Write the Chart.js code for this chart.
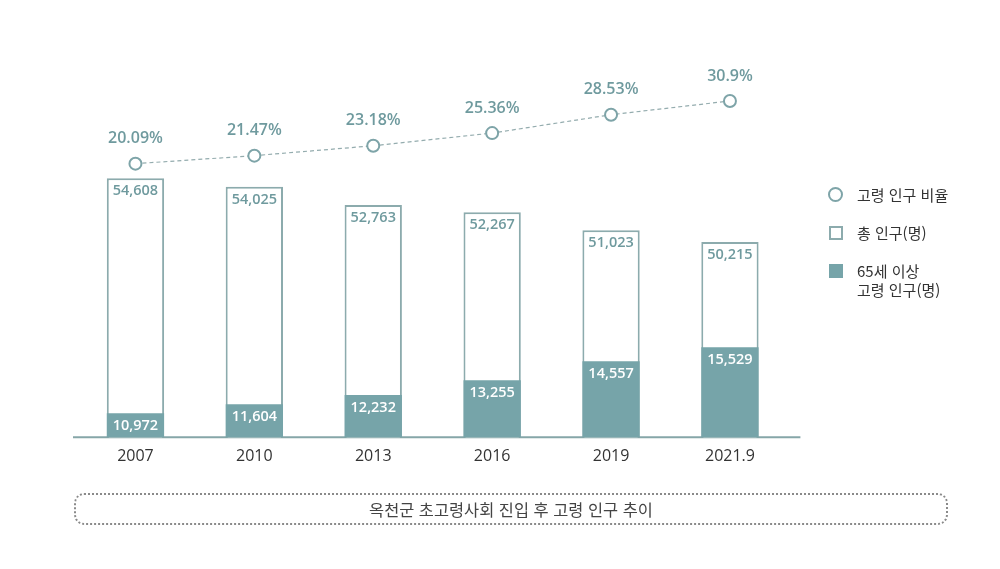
<!DOCTYPE html>
<html lang="ko">
<head>
<meta charset="utf-8">
<script src="https://cdn.jsdelivr.net/npm/chart.js@4.4.1/dist/chart.umd.min.js"></script>
<style>
  html, body { margin: 0; padding: 0; background: #fff; }
  #wrap { position: relative; width: 1000px; height: 569px; }
  #chart { position: absolute; left: 0; top: 0; }
  .legend { position: absolute; left: 828px; top: 185px; font-family: "Noto Sans CJK KR", "Open Sans", sans-serif; font-size: 15px; color: #333; }
  .legend .item { position: relative; padding-left: 29px; line-height: 19px; margin-bottom: 19px; }
  .legend .icon { position: absolute; left: 1px; top: 3px; width: 10px; height: 10px; box-sizing: border-box; }
  .caption { position: absolute; left: 74px; top: 493px; width: 874px; height: 32px; box-sizing: border-box;
    border: 2px dotted #8a8a8a; border-radius: 10px; text-align: center; line-height: 28px;
    font-family: "Noto Sans CJK KR", sans-serif; font-size: 16.4px; color: #444; }
</style>
</head>
<body>
<div id="wrap">
  <canvas id="chart" width="1000" height="569"></canvas>
  <div class="legend" id="legend"></div>
  <div class="caption" id="caption"></div>
</div>
<script>
const years = ["2007", "2010", "2013", "2016", "2019", "2021.9"];
const ratio = [20.09, 21.47, 23.18, 25.36, 28.53, 30.9];
const totalPop = [54608, 54025, 52763, 52267, 51023, 50215];
const elderPop = [10972, 11604, 12232, 13255, 14557, 15529];
const seriesNames = ["고령 인구 비율", "총 인구(명)", "65세 이상\n고령 인구(명)"];
const title = "옥천군 초고령사회 진입 후 고령 인구 추이";

const teal = "#76a4a9";
const labelTeal = "#6f9a9e";
const outline = "#8cabad";

// bar labels and percentages
const valueLabels = {
  id: "valueLabels",
  afterDatasetsDraw(chart) {
    const ctx = chart.ctx;
    ctx.save();
    ctx.textAlign = "center";
    ctx.textBaseline = "middle";
    chart.data.datasets.forEach((ds, i) => {
      const meta = chart.getDatasetMeta(i);
      meta.data.forEach((el, j) => {
        const v = ds.data[j];
        if (ds.type === "line") {
          ctx.font = "600 16px 'Open Sans'";
          ctx.fillStyle = labelTeal;
          ctx.fillText(v + "%", el.x, el.y - 25);
        } else {
          ctx.font = "600 14.5px 'Open Sans'";
          ctx.fillStyle = i === 2 ? "#fff" : labelTeal;
          ctx.fillText(v.toLocaleString("en-US"), el.x, el.y + 13);
        }
      });
    });
    ctx.restore();
  }
};

// baseline under the bars
const baseLine = {
  id: "baseLine",
  beforeDatasetsDraw(chart) {
    const { ctx, chartArea } = chart;
    ctx.save();
    ctx.strokeStyle = "#86a6a8";
    ctx.lineWidth = 2;
    ctx.beginPath();
    ctx.moveTo(chartArea.left - 3, chartArea.bottom);
    ctx.lineTo(chartArea.right + 11, chartArea.bottom);
    ctx.stroke();
    ctx.restore();
  }
};

const chart = new Chart(document.getElementById("chart"), {
  data: {
    labels: years,
    datasets: [
      {
        type: "line",
        label: seriesNames[0],
        data: ratio,
        yAxisID: "yRate",
        order: 0,
        borderColor: "#94acae",
        borderWidth: 1.2,
        borderDash: [4, 3],
        pointRadius: 6,
        pointBorderWidth: 2,
        pointBackgroundColor: "#fff",
        pointBorderColor: "#7ea4a8",
      },
      {
        type: "bar",
        label: seriesNames[1],
        data: totalPop,
        yAxisID: "yTotal",
        order: 2,
        backgroundColor: "#fff",
        borderColor: outline,
        borderWidth: 2,
        barPercentage: 0.482,
        categoryPercentage: 1,
        grouped: false,
      },
      {
        type: "bar",
        label: seriesNames[2],
        data: elderPop,
        yAxisID: "yOld",
        order: 1,
        backgroundColor: teal,
        borderWidth: 0,
        barPercentage: 0.482,
        categoryPercentage: 1,
        grouped: false,
      },
    ],
  },
  options: {
    responsive: false,
    animation: false,
    layout: { padding: { left: 76, right: 210.6, top: 40, bottom: 101.7 } },
    plugins: { legend: { display: false }, tooltip: { enabled: false } },
    scales: {
      x: {
        grid: { display: false, drawTicks: false },
        border: { display: false },
        ticks: { color: "#333", padding: 10, font: { family: "Open Sans", size: 16 } },
        afterFit: (s) => { s.height = 30; },
      },
      yTotal: { display: false, min: 36737, max: 64151 },
      yOld: { display: false, min: 9315, max: 36741 },
      yRate: { display: false, min: -27.08, max: 41.41 },
    },
  },
  plugins: [baseLine, valueLabels],
});

// html legend built from the datasets
const legend = document.getElementById("legend");
chart.data.datasets.forEach((ds, i) => {
  const item = document.createElement("div");
  item.className = "item";
  const icon = document.createElement("span");
  icon.className = "icon";
  if (i === 0) {
    icon.style.cssText = "left:0;top:2px;width:15px;height:15px;border:2px solid #7ea4a8;border-radius:50%;";
  } else if (i === 1) {
    icon.style.cssText = "width:14px;height:14px;border:2px solid " + outline + ";";
  } else {
    icon.style.cssText = "width:14px;height:14px;background:" + teal + ";";
  }
  item.appendChild(icon);
  ds.label.split("\n").forEach((t, k) => {
    if (k > 0) item.appendChild(document.createElement("br"));
    item.appendChild(document.createTextNode(t));
  });
  legend.appendChild(item);
});
document.getElementById("caption").textContent = title;
</script>
</body>
</html>
